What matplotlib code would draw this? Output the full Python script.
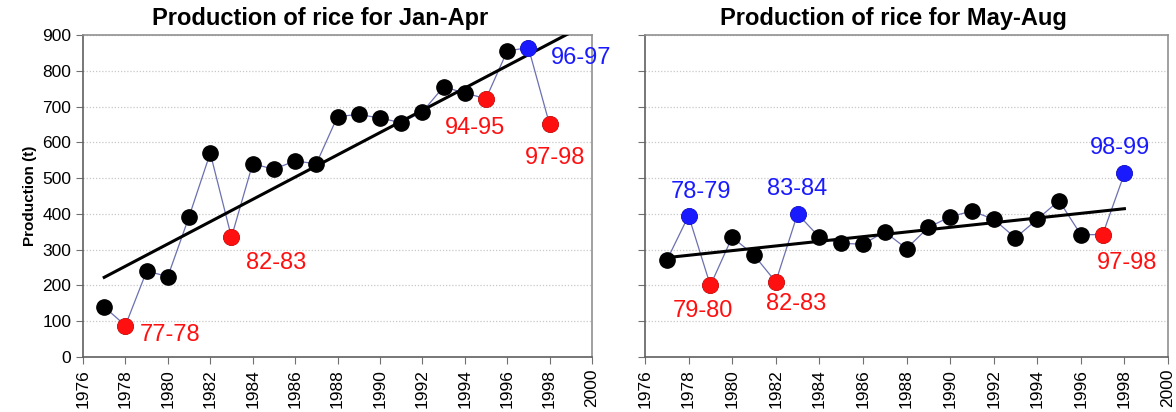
import numpy as np
import matplotlib.pyplot as plt

plt.rcParams['font.family'] = ['Liberation Sans', 'DejaVu Sans']

# rice production (t) per season
years = list(range(1977, 1999))
jan_apr = [140, 88, 240, 225, 392, 570, 335, 540, 525, 548, 540,
           672, 678, 668, 655, 685, 755, 738, 722, 855, 865, 650]
may_aug = [270, 395, 200, 335, 285, 210, 400, 335, 318, 315, 350,
           303, 362, 392, 408, 385, 333, 385, 437, 342, 342, 513]

# highlighted seasons: (year, label, colour, text offset in pixels, align)
jan_apr_marks = [(1978, '77-78', 'red', (14, -9), 'left'),
                 (1983, '82-83', 'red', (15, -26), 'left'),
                 (1995, '94-95', 'red', (-11, -29), 'center'),
                 (1998, '97-98', 'red', (5, -34), 'center'),
                 (1997, '96-97', 'blue', (23, -10), 'left')]
may_aug_marks = [(1978, '78-79', 'blue', (12, 24), 'center'),
                 (1979, '79-80', 'red', (-7, -26), 'center'),
                 (1982, '82-83', 'red', (20, -22), 'center'),
                 (1983, '83-84', 'blue', (0, 25), 'center'),
                 (1997, '97-98', 'red', (24, -28), 'center'),
                 (1998, '98-99', 'blue', (-4, 25), 'center')]

RED = '#ff1010'
BLUE = '#1a1aff'

fig = plt.figure(figsize=(11.76, 4.12), dpi=100)
ax1 = fig.add_axes([83 / 1176, 55 / 412, 509 / 1176, 322 / 412])
ax2 = fig.add_axes([645 / 1176, 55 / 412, 523 / 1176, 322 / 412])


def draw(ax, values, marks, title, title_x, trend_end):
    x = np.array(years)
    y = np.array(values)
    ax.plot(x, y, '-', color='#6b70b0', lw=0.9, zorder=2)
    ax.plot(x, y, 'o', color='black', ms=11, zorder=3)
    # least squares trend
    k, b = np.polyfit(x, y, 1)
    tx = np.array([1977, trend_end])
    ax.plot(tx, k * tx + b, '-', color='black', lw=2.2, zorder=4)
    for yr, lab, col, off, ha in marks:
        v = values[years.index(yr)]
        c = RED if col == 'red' else BLUE
        ax.plot(yr, v, 'o', color=c, ms=11, zorder=5)
        t = ax.annotate(lab, (yr, v), xytext=off, textcoords='offset pixels',
                        ha=ha, va='center', color=c, fontsize=17)
        t.set_clip_on(False)
    ax.set_xlim(1976, 2000)
    ax.set_ylim(0, 900)
    ax.set_xticks(range(1976, 2001, 2))
    ax.set_yticks(range(0, 901, 100))
    ax.tick_params(axis='x', rotation=90, labelsize=12.5, direction='out',
                   length=5, color='#707070')
    ax.tick_params(axis='y', labelsize=12.5, direction='out', length=5,
                   color='#707070')
    ax.yaxis.grid(True, ls=(0, (1, 1.5)), color='#c8c8c8', lw=0.9)
    ax.set_axisbelow(True)
    for s in ax.spines.values():
        s.set_color('#909090')
        s.set_linewidth(1.2)
    ax.spines['left'].set_color('#606060')
    ax.spines['bottom'].set_color('#606060')
    ax.set_title(title, fontsize=17, fontweight='bold', pad=7, x=title_x)


draw(ax1, jan_apr, jan_apr_marks, 'Production of rice for Jan-Apr', 0.465, 2000)
draw(ax2, may_aug, may_aug_marks, 'Production of rice for May-Aug', 0.475, 1998)

ax1.set_ylabel('Production (t)', fontsize=11, fontweight='bold', labelpad=4)
ax2.set_yticklabels([])

fig.savefig('out.png', dpi=100)
